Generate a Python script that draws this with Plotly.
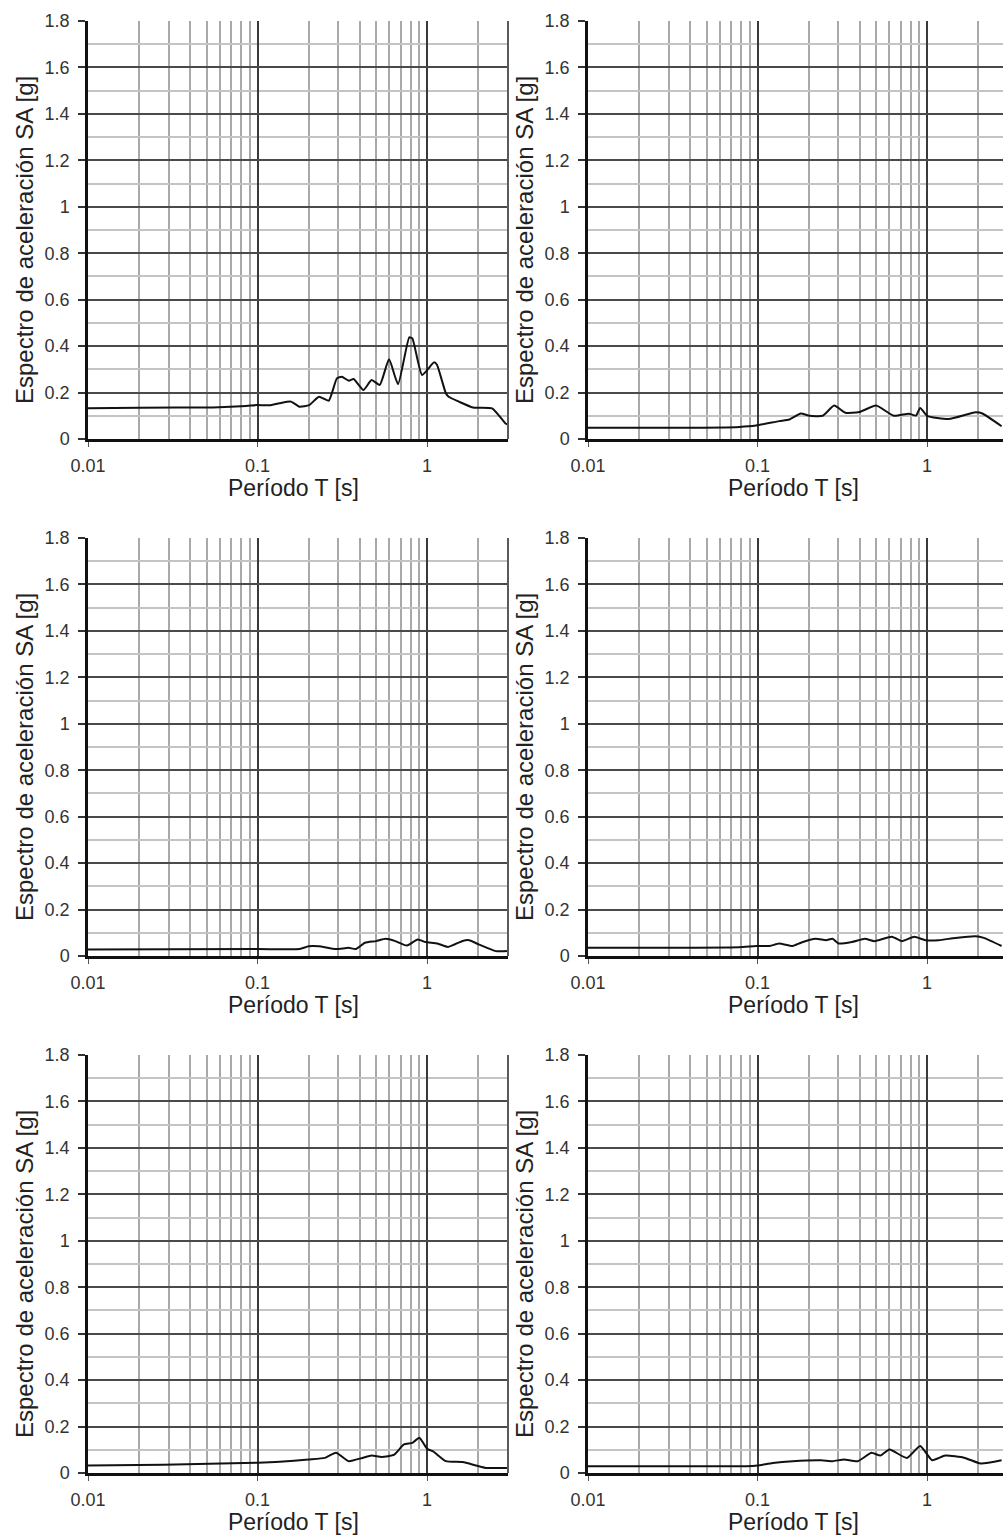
import math
import plotly.graph_objects as go

# ---------------- data ----------------
T1 = [0.01, 0.0202, 0.0546, 0.0858, 0.0985, 0.1177, 0.1347, 0.1574, 0.1767, 0.2017, 0.2303, 0.2629,
      0.2937, 0.3138, 0.3455, 0.3689, 0.4211, 0.4704, 0.5256, 0.5962, 0.6739, 0.7848, 0.8185, 0.934,
      1.10, 1.145, 1.29, 1.34, 1.54, 1.86, 2.42, 2.9, 3.0]
SA1 = [0.132, 0.135, 0.136, 0.142, 0.146, 0.145, 0.154, 0.161, 0.139, 0.146, 0.182, 0.165,
       0.261, 0.268, 0.251, 0.258, 0.211, 0.254, 0.233, 0.343, 0.236, 0.438, 0.433, 0.276,
       0.330, 0.319, 0.197, 0.182, 0.161, 0.136, 0.132, 0.067, 0.062]

T2 = [0.01, 0.0347, 0.078, 0.098, 0.134, 0.154, 0.18, 0.202, 0.242, 0.283, 0.33, 0.398, 0.50,
      0.637, 0.78, 0.86, 0.91, 1.0, 1.34, 1.93, 2.12, 2.75]
SA2 = [0.048, 0.048, 0.052, 0.058, 0.077, 0.084, 0.110, 0.100, 0.100, 0.144, 0.113, 0.116, 0.144,
       0.100, 0.109, 0.101, 0.134, 0.100, 0.086, 0.115, 0.110, 0.055]

T3 = [0.01, 0.1, 0.177, 0.20, 0.23, 0.29, 0.345, 0.38, 0.43, 0.50, 0.57, 0.65, 0.76, 0.88, 0.98,
      1.15, 1.33, 1.62, 1.77, 2.03, 2.54, 3.0]
SA3 = [0.028, 0.030, 0.030, 0.042, 0.042, 0.030, 0.035, 0.030, 0.057, 0.064, 0.074, 0.064, 0.045,
       0.071, 0.060, 0.054, 0.039, 0.065, 0.068, 0.049, 0.021, 0.021]

T4 = [0.01, 0.078, 0.098, 0.118, 0.134, 0.161, 0.18, 0.22, 0.254, 0.277, 0.30, 0.36, 0.43, 0.49,
      0.62, 0.71, 0.84, 0.98, 1.17, 1.47, 1.93, 2.16, 2.75]
SA4 = [0.035, 0.038, 0.043, 0.043, 0.054, 0.043, 0.057, 0.074, 0.068, 0.074, 0.054, 0.060, 0.074,
       0.064, 0.083, 0.064, 0.083, 0.068, 0.068, 0.078, 0.085, 0.078, 0.043]

T5 = [0.01, 0.0277, 0.1, 0.135, 0.20, 0.25, 0.29, 0.345, 0.415, 0.47, 0.54, 0.64, 0.73, 0.82, 0.90,
      1.0, 1.08, 1.29, 1.62, 2.22, 3.0]
SA5 = [0.032, 0.036, 0.044, 0.048, 0.058, 0.065, 0.087, 0.051, 0.065, 0.075, 0.069, 0.079, 0.123,
       0.130, 0.152, 0.104, 0.094, 0.051, 0.047, 0.022, 0.022]

T6 = [0.01, 0.086, 0.10, 0.123, 0.161, 0.237, 0.277, 0.324, 0.39, 0.47, 0.53, 0.60, 0.76, 0.91,
      1.07, 1.28, 1.67, 2.07, 2.75]
SA6 = [0.029, 0.029, 0.032, 0.043, 0.051, 0.055, 0.051, 0.058, 0.051, 0.087, 0.075, 0.101, 0.065,
       0.116, 0.055, 0.075, 0.065, 0.041, 0.055]

SERIES = [(T1, SA1), (T2, SA2), (T3, SA3), (T4, SA4), (T5, SA5), (T6, SA6)]

X_TICKS = [0.01, 0.1, 1]
X_TICK_TEXT = ["0.01", "0.1", "1"]
X_MINOR = [0.02, 0.03, 0.04, 0.05, 0.06, 0.07, 0.08, 0.09,
           0.2, 0.3, 0.4, 0.5, 0.6, 0.7, 0.8, 0.9, 2, 3]
Y_TICKS = [0, 0.2, 0.4, 0.6, 0.8, 1.0, 1.2, 1.4, 1.6, 1.8]
Y_TICK_TEXT = ["0", "0.2", "0.4", "0.6", "0.8", "1", "1.2", "1.4", "1.6", "1.8"]

X_TITLE = "Período T [s]"
Y_TITLE = "Espectro de aceleración SA [g]"

# ---------------- layout geometry ----------------
W, H = 1003, 1537
FONT = "Liberation Sans, Arial, Helvetica, sans-serif"
col_px = [(88, 508), (588, 1003)]
x_ranges = [[-2, math.log10(3)], [-2, -2 + (1003 - 588) / (420 / (math.log10(3) + 2))]]
row_px = [(21, 439), (538, 956), (1055, 1473)]

fig = go.Figure()
annotations = []
shapes = []

for i, (T, SA) in enumerate(SERIES):
    r, c = divmod(i, 2)
    n = i + 1
    xa = "x" if n == 1 else f"x{n}"
    ya = "y" if n == 1 else f"y{n}"
    fig.add_trace(go.Scatter(x=T, y=SA, mode="lines", xaxis=xa, yaxis=ya,
                             line=dict(color="#111111", width=2, shape="spline", smoothing=0.5),
                             showlegend=False, hoverinfo="skip"))
    x0, x1 = col_px[c]
    y0, y1 = row_px[r]
    xdom = [x0 / W, x1 / W]
    ydom = [1 - y1 / H, 1 - y0 / H]
    xkey = "xaxis" if n == 1 else f"xaxis{n}"
    ykey = "yaxis" if n == 1 else f"yaxis{n}"
    fig.update_layout(**{
        xkey: dict(type="log", domain=xdom, range=x_ranges[c], anchor=ya,
                   tickmode="array", tickvals=X_TICKS, ticktext=X_TICK_TEXT,
                   showgrid=True, gridcolor="#3a3a3a", gridwidth=2,
                   showline=True, linecolor="#111111", linewidth=2.5,
                   ticks="outside", ticklen=5, tickcolor="#555555", tickwidth=1,
                   ticklabelstandoff=4,
                   tickfont=dict(family=FONT, size=18, color="#333333"),
                   minor=dict(tickmode="array", tickvals=X_MINOR, showgrid=True,
                              gridcolor="#a9a9a9", gridwidth=1.5, ticks=""),
                   zeroline=False, fixedrange=True, automargin=False),
        ykey: dict(domain=ydom, range=[0, 1.8], anchor=xa,
                   tickmode="array", tickvals=Y_TICKS, ticktext=Y_TICK_TEXT,
                   showgrid=True, gridcolor="#4a4a4a", gridwidth=2,
                   showline=True, linecolor="#111111", linewidth=2.5,
                   ticks="outside", ticklen=7, tickcolor="#333333", tickwidth=1.5,
                   ticklabelstandoff=5,
                   tickfont=dict(family=FONT, size=18, color="#333333"),
                   minor=dict(dtick=0.1, showgrid=True, gridcolor="#c4c4c4", gridwidth=1.5, ticks=""),
                   zeroline=False, fixedrange=True, automargin=False),
    })
    # x title
    xc = (x0 + 420 / 2 - 5) / W
    annotations.append(dict(text=X_TITLE, xref="paper", yref="paper",
                            x=xc, y=1 - (y1 + 49) / H, xanchor="center", yanchor="middle",
                            showarrow=False, font=dict(family=FONT, size=23, color="#222222")))
    # y title
    annotations.append(dict(text=Y_TITLE, xref="paper", yref="paper",
                            x=(x0 - 64) / W, y=1 - ((y0 + y1) / 2 + 10) / H,
                            xanchor="center", yanchor="middle", textangle=-90,
                            showarrow=False, font=dict(family=FONT, size=24, color="#222222")))
    if c == 0:
        shapes.append(dict(type="line", xref=f"{xa} domain", yref=f"{ya} domain",
                           x0=1, x1=1, y0=0, y1=1, line=dict(color="#5a5a5a", width=2)))

fig.update_layout(width=W, height=H, margin=dict(l=0, r=0, t=0, b=0),
                  paper_bgcolor="white", plot_bgcolor="white",
                  annotations=annotations, shapes=shapes, showlegend=False,
                  font=dict(family=FONT))

fig.write_html("out.html", config={"displayModeBar": False})
